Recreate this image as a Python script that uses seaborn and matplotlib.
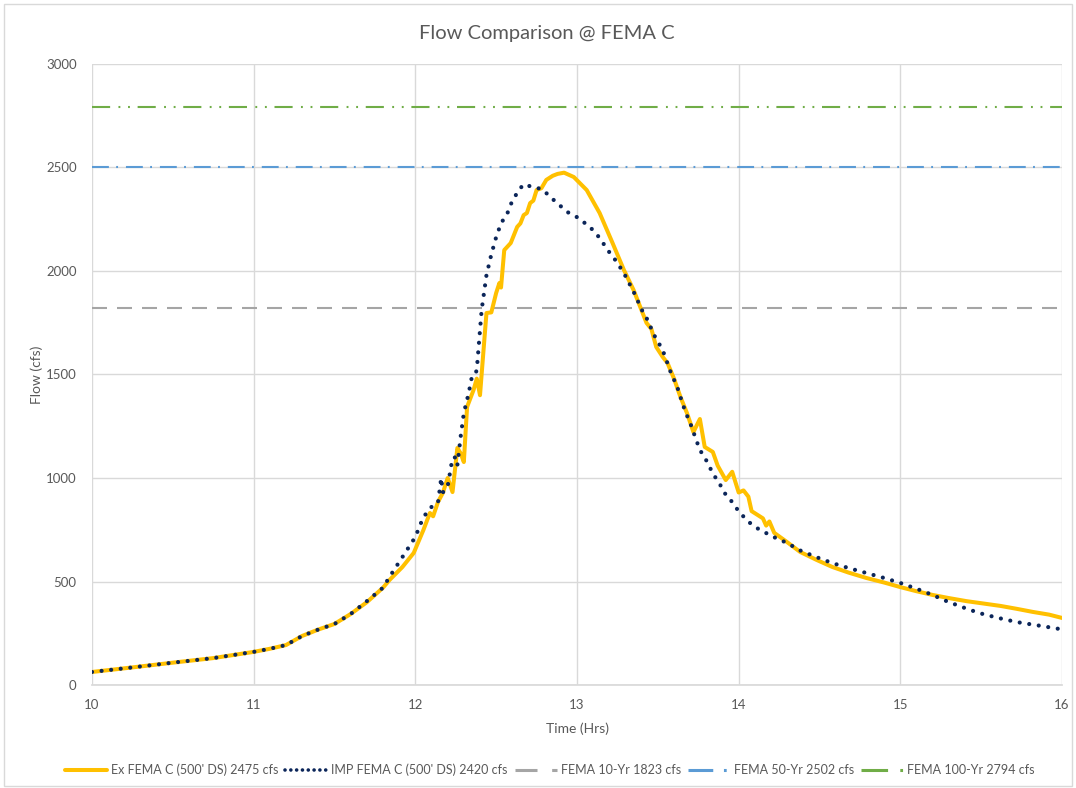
import matplotlib
matplotlib.use('Agg')
import matplotlib.pyplot as plt
import seaborn as sns
from matplotlib.lines import Line2D
from matplotlib.patches import Rectangle

sns.set_theme(style='white')
plt.rcParams['font.family'] = ['Lato', 'DejaVu Sans']
TXT = '#595959'

ex_time = [10.0, 10.25, 10.5, 10.75, 11.0, 11.1, 11.2, 11.3, 11.4, 11.5, 11.6, 11.7, 11.8, 11.84,
           11.92, 11.99, 12.05, 12.09, 12.11, 12.14, 12.17, 12.2, 12.23, 12.26, 12.28, 12.3, 12.32,
           12.36, 12.38, 12.4, 12.42, 12.44, 12.47, 12.5, 12.52, 12.53, 12.55, 12.59, 12.63, 12.65,
           12.67, 12.69, 12.71, 12.73, 12.75, 12.78, 12.81, 12.85, 12.88, 12.92, 12.98, 13.06, 13.14,
           13.22, 13.29, 13.35, 13.43, 13.46, 13.49, 13.53, 13.56, 13.6, 13.64, 13.68, 13.72, 13.76,
           13.79, 13.84, 13.87, 13.92, 13.96, 14.0, 14.03, 14.06, 14.08, 14.12, 14.15, 14.17, 14.19,
           14.22, 14.3, 14.38, 14.48, 14.58, 14.68, 14.79, 14.9, 15.0, 15.1, 15.2, 15.3, 15.41, 15.52,
           15.62, 15.72, 15.82, 15.92, 16.0]
ex_flow = [63, 85, 108, 130, 160, 175, 193, 237, 268, 295, 343, 400, 470, 507,
           570, 638, 749, 831, 815, 884, 928, 1000, 932, 1145, 1120, 1077, 1343,
           1425, 1480, 1400, 1600, 1797, 1800, 1894, 1942, 1920, 2101, 2135, 2213, 2230,
           2270, 2280, 2328, 2340, 2391, 2400, 2440, 2460, 2469, 2475, 2454, 2391, 2280,
           2135, 2005, 1908, 1749, 1720, 1633, 1585, 1555, 1480, 1391, 1314, 1222, 1285,
           1150, 1126, 1060, 990, 1030, 930, 940, 910, 840, 820, 805, 770, 790,
           735, 690, 643, 605, 570, 543, 517, 495, 473, 453, 435, 420, 405, 393,
           382, 368, 353, 340, 324]

imp_time = [10.0, 10.25, 10.5, 10.75, 11.0, 11.1, 11.2, 11.3, 11.4, 11.5, 11.6, 11.7, 11.8, 11.84,
            11.92, 12.0, 12.05, 12.08, 12.11, 12.14, 12.16, 12.17, 12.2, 12.23, 12.25, 12.26, 12.28,
            12.3, 12.33, 12.35, 12.37, 12.38, 12.41, 12.44, 12.47, 12.5, 12.53, 12.57, 12.6, 12.63,
            12.66, 12.68, 12.72, 12.76, 12.79, 12.86, 12.94, 13.0, 13.08, 13.14, 13.19, 13.24, 13.29,
            13.35, 13.41, 13.44, 13.47, 13.53, 13.58, 13.62, 13.64, 13.67, 13.7, 13.73, 13.76, 13.79,
            13.82, 13.85, 13.88, 13.91, 13.95, 13.98, 14.01, 14.04, 14.07, 14.12, 14.17, 14.23, 14.3,
            14.38, 14.48, 14.58, 14.68, 14.79, 14.9, 15.0, 15.1, 15.2, 15.27, 15.35, 15.43, 15.51,
            15.6, 15.72, 15.85, 15.99]
imp_flow = [63, 85, 108, 130, 160, 175, 193, 237, 268, 295, 343, 405, 470, 522,
            618, 715, 812, 840, 870, 880, 1000, 930, 960, 1097, 1100, 1062, 1198,
            1314, 1410, 1490, 1500, 1522, 1811, 1980, 2080, 2164, 2230, 2280, 2340, 2377,
            2410, 2420, 2405, 2400, 2391, 2340, 2285, 2260, 2213, 2160, 2101, 2050, 1990,
            1900, 1797, 1760, 1700, 1618, 1510, 1440, 1391, 1320, 1266, 1200, 1135, 1100,
            1053, 1010, 976, 930, 894, 860, 831, 805, 783, 755, 734, 710, 686,
            650, 618, 589, 565, 541, 517, 493, 465, 435, 410, 386, 363, 343,
            325, 304, 288, 270]

fema_labels = ['FEMA 10-Yr 1823 cfs', 'FEMA 50-Yr 2502 cfs', 'FEMA 100-Yr 2794 cfs']
fema_flows = [1823, 2502, 2794]
fema_colors = ['#A5A5A5', '#5B9BD5', '#70AD47']
fema_styles = [(0, (7.2, 4.8)), (0, (8.1, 3.5, 0.9, 3.8)), (0, (8.7, 4.0, 0.9, 3.7, 0.9, 3.7))]

ex_label = "Ex FEMA C (500' DS) 2475 cfs"
imp_label = "IMP FEMA C (500' DS) 2420 cfs"

fig = plt.figure(figsize=(10.76, 7.88), dpi=100)
ax = fig.add_axes([0.0855, 0.1307, 0.9015, 0.7881])

for flow, color, style in zip(fema_flows, fema_colors, fema_styles):
    ax.axhline(flow, color=color, lw=1.5, ls=style, zorder=2)

sns.lineplot(x=ex_time, y=ex_flow, ax=ax, color='#FFC000', lw=2.9, sort=False,
             estimator=None, zorder=3, solid_joinstyle='round')
sns.lineplot(x=imp_time, y=imp_flow, ax=ax, color='#0B2559', lw=3.0, sort=False,
             estimator=None, zorder=4, linestyle=(0, (0.01, 2.3)), dash_capstyle='round')

ax.set_xlim(10, 16)
ax.set_ylim(0, 3000)
ax.set_xticks(range(10, 17))
ax.set_yticks(range(0, 3001, 500))
ax.grid(True, color='#D9D9D9', lw=1)
for s in ax.spines.values():
    s.set_visible(False)
ax.spines['bottom'].set_visible(True)
ax.spines['bottom'].set_color('#D9D9D9')
ax.tick_params(axis='both', length=0, labelsize=9.5, labelcolor=TXT)
ax.tick_params(axis='x', pad=10)
ax.tick_params(axis='y', pad=11)
ax.set_xlabel('Time (Hrs)', fontsize=10, color=TXT, labelpad=8)
ax.set_ylabel('Flow (cfs)', fontsize=10, color=TXT, labelpad=2)
fig.text(0.508, 0.958, 'Flow Comparison @ FEMA C', fontsize=14.5, color=TXT,
         ha='center', va='center')

handles = [Line2D([], [], color='#FFC000', lw=2.9),
           Line2D([], [], color='#0B2559', lw=2.6, ls=(0, (0.01, 1.6)), dash_capstyle='round')]
handles += [Line2D([], [], color=c, lw=2.2, ls=s) for c, s in zip(fema_colors, fema_styles)]
labels = [ex_label, imp_label] + fema_labels
leg = fig.legend(handles, labels, loc='center', bbox_to_anchor=(0.511, 0.023), ncol=5,
                 frameon=False, fontsize=9, handlelength=3.4, handletextpad=0.3,
                 columnspacing=0.55)
for t in leg.get_texts():
    t.set_color(TXT)

fig.patches.append(Rectangle((0.004, 0.003), 0.992, 0.992, transform=fig.transFigure,
                             fill=False, edgecolor='#D9D9D9', lw=1))

fig.savefig('out.png', dpi=100)
